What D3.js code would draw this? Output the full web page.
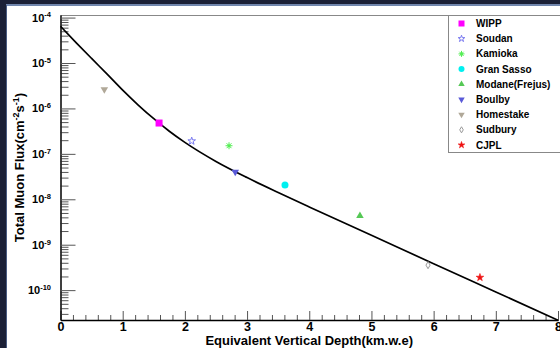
<!DOCTYPE html>
<html lang="en">
<head>
    <meta charset="UTF-8">
    <title>Total Muon Flux vs Depth</title>
    <style>
        body { margin: 0; background: #fff; }
        svg { display: block; font-family: "Liberation Sans", Arial, sans-serif; font-weight: bold; }
        .axis path { stroke: #000; }
        .axis line { stroke: #555; }
        .legend text { font-size: 10px; }
    </style>
</head>
<body>
    <svg width="560" height="348"></svg>

    <script src="https://d3js.org/d3.v7.min.js"></script>
    <script>
        const width = 560, height = 348;

        // depth-intensity curve
        const curveDepth = [0, 0.25, 0.5, 0.75, 1, 1.25, 1.5, 1.75, 2, 2.5, 3, 3.5, 4, 5, 6, 7, 8];
        const curveFlux = [6.45e-5, 2.82e-5, 1.26e-5, 5.69e-6, 2.53e-6, 1.19e-6, 5.94e-7, 3.15e-7,
            1.79e-7, 6.81e-8, 3.0e-8, 1.41e-8, 6.77e-9, 1.61e-9, 3.82e-10, 9.13e-11, 2.18e-11];

        // labs
        const labs = ["WIPP", "Soudan", "Kamioka", "Gran Sasso", "Modane(Frejus)", "Boulby", "Homestake", "Sudbury", "CJPL"];
        const labDepth = [1.585, 2.11, 2.71, 3.61, 4.815, 2.81, 0.705, 5.91, 6.745];
        const labFlux = [4.77e-7, 1.91e-7, 1.51e-7, 2.06e-8, 4.33e-9, 4.0e-8, 2.63e-6, 3.55e-10, 1.9e-10];
        const labColor = ["#ff00ff", "#7b7bf0", "#55ee55", "#00f0f0", "#55c855", "#5a5ad8", "#b0a898", "#9a9a9a", "#ee1111"];
        const labShape = ["square", "openstar", "asterisk", "circle", "triup", "tridown", "tridown", "opendiamond", "star"];

        const xTicks = [0, 1, 2, 3, 4, 5, 6, 7, 8];
        const yDecades = [-10, -9, -8, -7, -6, -5, -4];

        const svg = d3.select("svg");

        // dark frame round the canvas
        svg.append("rect").attr("x", 0).attr("y", 0).attr("width", width).attr("height", 5).attr("fill", "#1b2036");
        svg.append("rect").attr("x", 0).attr("y", 4).attr("width", width).attr("height", 2).attr("fill", "#7186ad");
        svg.append("rect").attr("x", 0).attr("y", 0).attr("width", 6).attr("height", height).attr("fill", "#1b2036");
        svg.append("rect").attr("x", 6).attr("y", 5).attr("width", 1).attr("height", height).attr("fill", "#4a5c82");

        const x = d3.scaleLinear().domain([0, 8]).range([60.5, 558]);
        const y = d3.scaleLog().domain([2.2e-11, 1.14e-4]).range([320, 15]);

        // top frame line
        svg.append("line")
            .attr("x1", 60.5).attr("x2", width).attr("y1", 15.5).attr("y2", 15.5)
            .attr("stroke", "#888");

        // x axis
        const xMinor = d3.range(0, 8.01, 0.2).filter(v => Math.abs(v - Math.round(v)) > 0.01);
        svg.append("g").attr("class", "axis").attr("transform", "translate(0,320)")
            .call(d3.axisBottom(x).tickValues(xMinor).tickSize(-5).tickFormat("").tickSizeOuter(0));
        const gx = svg.append("g").attr("class", "axis").attr("transform", "translate(0,320)")
            .call(d3.axisBottom(x).tickValues(xTicks).tickSize(-9).tickPadding(2.5).tickSizeOuter(0));
        gx.selectAll("text").attr("font-size", 12.5).attr("fill", "#000");
        gx.select(".domain").attr("stroke-width", 1.5);

        // y axis
        const yMinor = [];
        for (let e = -11; e <= -4; e++) {
            for (let m = 2; m <= 9; m++) {
                const v = m * Math.pow(10, e);
                if (v >= 2.2e-11 && v <= 1.14e-4) yMinor.push(v);
            }
        }
        svg.append("g").attr("class", "axis").attr("transform", "translate(60.5,0)")
            .call(d3.axisLeft(y).tickValues(yMinor).tickSize(-8).tickFormat("").tickSizeOuter(0))
            .select(".domain").attr("stroke", "#444");
        const gy = svg.append("g").attr("class", "axis").attr("transform", "translate(60.5,0)")
            .call(d3.axisLeft(y).tickValues(yDecades.map(e => Math.pow(10, e)))
                .tickSize(-15).tickPadding(9.5).tickSizeOuter(0).tickFormat(""));
        gy.select(".domain").attr("stroke", "#444");
        gy.selectAll(".tick text")
            .attr("font-size", 11).attr("fill", "#000")
            .each(function(d) {
                const t = d3.select(this);
                t.append("tspan").text("10");
                t.append("tspan").attr("font-size", 7.5).attr("dy", "-0.55em")
                    .text(Math.round(Math.log10(d)));
            });

        // axis titles
        svg.append("text")
            .attr("x", (60.5 + 558) / 2).attr("y", 344.5)
            .attr("text-anchor", "middle").attr("font-size", 13)
            .text("Equivalent Vertical Depth(km.w.e)");

        const yt = svg.append("text")
            .attr("transform", "translate(24,167.5) rotate(-90)")
            .attr("text-anchor", "middle").attr("font-size", 13);
        yt.append("tspan").text("Total Muon Flux(cm");
        yt.append("tspan").attr("font-size", 9).attr("dy", -5).text("-2");
        yt.append("tspan").attr("dy", 5).text("s");
        yt.append("tspan").attr("font-size", 9).attr("dy", -5).text("-1");
        yt.append("tspan").attr("dy", 5).text(")");

        // curve
        const line = d3.line()
            .x((d, i) => x(curveDepth[i]))
            .y(d => y(d))
            .curve(d3.curveMonotoneX);
        svg.append("path")
            .datum(curveFlux)
            .attr("d", line)
            .attr("fill", "none")
            .attr("stroke", "#000")
            .attr("stroke-width", 1.7);

        // markers
        function marker(g, shape, color, s) {
            const r = s / 2;
            if (shape === "square") {
                g.append("rect").attr("x", -r).attr("y", -r).attr("width", s).attr("height", s).attr("fill", color);
            } else if (shape === "circle") {
                g.append("circle").attr("r", r).attr("fill", color);
            } else if (shape === "openstar" || shape === "star") {
                g.append("path").attr("d", d3.symbol(d3.symbolStar, (r + 0.5) * (r + 0.5) / 0.89)())
                    .attr("fill", shape === "star" ? color : "none")
                    .attr("stroke", color).attr("stroke-width", shape === "star" ? 0.6 : 1);
            } else if (shape === "triup" || shape === "tridown") {
                g.append("path").attr("d", d3.symbol(d3.symbolTriangle, s * s * 0.5)())
                    .attr("transform", shape === "tridown" ? "rotate(180)" : null)
                    .attr("fill", color);
            } else if (shape === "opendiamond") {
                g.append("path").attr("d", d3.symbol(d3.symbolDiamond, s * s * 0.3)())
                    .attr("fill", "none").attr("stroke", color).attr("stroke-width", 1);
            } else if (shape === "asterisk") {
                const a = r * 0.7;
                g.append("path")
                    .attr("d", `M${-r},0H${r}M0,${-r}V${r}M${-a},${-a}L${a},${a}M${-a},${a}L${a},${-a}`)
                    .attr("stroke", color).attr("stroke-width", 1);
                g.append("circle").attr("r", 1.5).attr("fill", color);
            }
        }

        labs.forEach((name, i) => {
            const g = svg.append("g")
                .attr("transform", `translate(${x(labDepth[i])},${y(labFlux[i])})`);
            marker(g, labShape[i], labColor[i], 7);
        });

        // legend
        const legend = svg.append("g").attr("class", "legend");
        legend.append("rect")
            .attr("x", 448.5).attr("y", 15.5).attr("width", 130).attr("height", 137)
            .attr("fill", "#fff").attr("stroke", "#888");
        const rowY = d3.scaleLinear().domain([0, 8]).range([23.5, 145]);
        labs.forEach((name, i) => {
            const g = legend.append("g").attr("transform", `translate(461.5,${rowY(i)})`);
            marker(g, labShape[i], labColor[i], 6);
            legend.append("text")
                .attr("x", 476).attr("y", rowY(i)).attr("dy", "0.36em")
                .attr("fill", "#000")
                .text(name);
        });
    </script>
</body>
</html>
